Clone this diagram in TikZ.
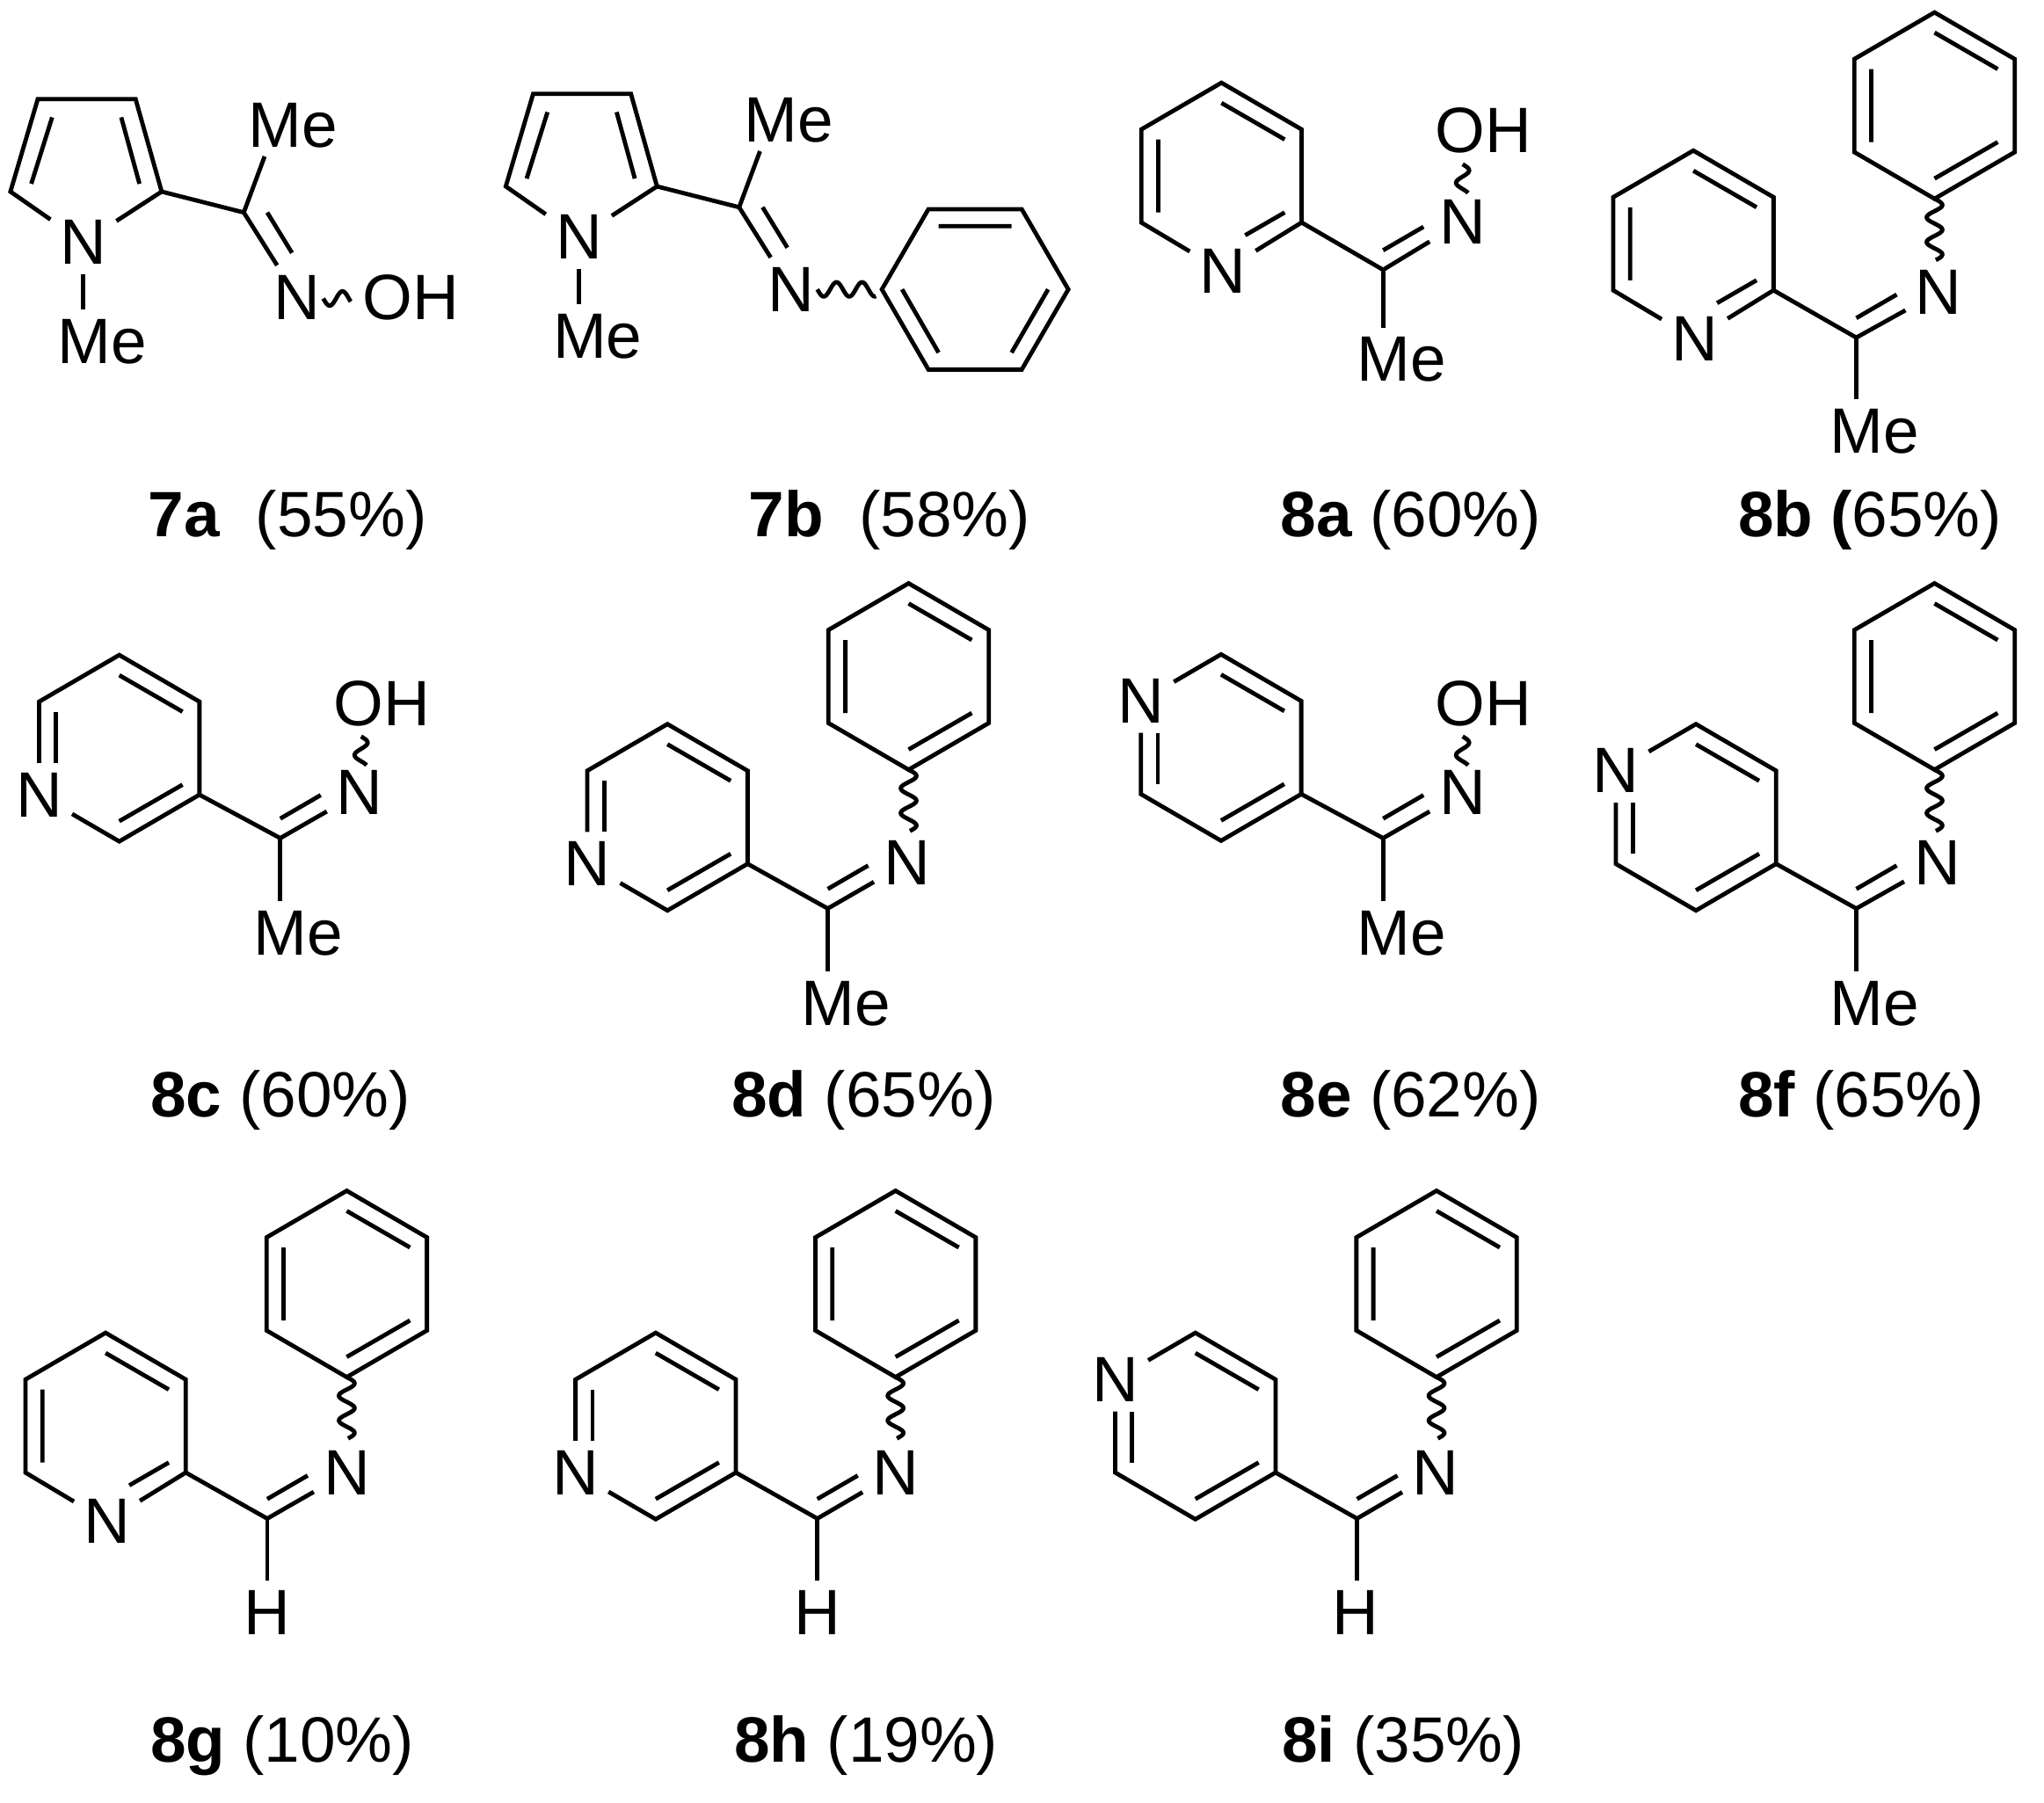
\documentclass[tikz,border=0pt]{standalone}
\usepackage{fontspec}
\setmainfont{Liberation Sans}
\usetikzlibrary{calc}
\tikzset{
  bond/.style={line width=0.65mm,black,line join=miter},
  atom/.style={font=\fontsize{28}{33}\selectfont,inner sep=4.1pt,anchor=center},
  yieldlabel/.style={font=\fontsize{28}{33}\selectfont,inner sep=0pt,anchor=base west},
}
% wavy bonds, starting at a named coordinate: vertical (going down) and horizontal (going right)
\newcommand\vwig[3]{\draw[bond,shift={(#1)}] plot[domain=0:#2,samples=70,variable=\wv] ({#3*sin(18.947*\wv)},{\wv});}
\newcommand\hwig[3]{\draw[bond,shift={(#1)}] plot[domain=0:#2,samples=70,variable=\wv] ({\wv},{#3*sin(18.367*\wv)});}
% hexagon coordinates: 1 top, 2 UR, 3 LR, 4 bottom, 5 LL, 6 UL; "i" = inner ring for double bonds
\newcommand\hexpts[3]{%
  \coordinate (#11) at ({#2},{#3-71.5});
  \coordinate (#12) at ({#2+61.5},{#3-35.7});
  \coordinate (#13) at ({#2+61.5},{#3+35.7});
  \coordinate (#14) at ({#2},{#3+71.5});
  \coordinate (#15) at ({#2-61.5},{#3+35.7});
  \coordinate (#16) at ({#2-61.5},{#3-35.7});
  \coordinate (#1i1) at ({#2},{#3-56});
  \coordinate (#1i2) at ({#2+48.5},{#3-28});
  \coordinate (#1i3) at ({#2+48.5},{#3+28});
  \coordinate (#1i4) at ({#2},{#3+56});
  \coordinate (#1i5) at ({#2-48.5},{#3+28});
  \coordinate (#1i6) at ({#2-48.5},{#3-28});
}
\newcommand\phenylring[3]{%
  \hexpts{#1}{#2}{#3}
  \draw[bond] (#11)--(#12)--(#13)--(#14)--(#15)--(#16)--cycle;
  \draw[bond] (#1i1)--(#1i2) (#1i3)--(#1i4) (#1i5)--(#1i6);
}
% N at vertex 4 (2-pyridyl)
\newcommand\pyrtwo[3]{%
  \hexpts{#1}{#2}{#3}
  \node[atom] (#1N) at ({#2+1},{#3+73}) {N};
  \draw[bond] (#1N)--(#15)--(#16)--(#11)--(#12)--(#13)--(#1N);
  \draw[bond] (#1i1)--(#1i2) (#1i5)--(#1i6);
  \draw[bond,shorten >=4.2mm] (#1i3)--(#1i4);
}
% N at vertex 5 (3-pyridyl)
\newcommand\pyrthree[3]{%
  \hexpts{#1}{#2}{#3}
  \node[atom] (#1N) at (#15) {N};
  \draw[bond] (#1N)--(#14)--(#13)--(#12)--(#11)--(#16)--(#16 |- #1N.north);
  \draw[bond] (#1i1)--(#1i2) (#1i3)--(#1i4);
  \draw[bond] (#1i6)--(#1i6 |- #1N.north);
}
% N at vertex 6 (4-pyridyl)
\newcommand\pyrfour[3]{%
  \hexpts{#1}{#2}{#3}
  \node[atom] (#1N) at (#16) {N};
  \draw[bond] (#1N)--(#11)--(#12)--(#13)--(#14)--(#15)--(#15 |- #1N.south);
  \draw[bond] (#1i1)--(#1i2) (#1i3)--(#1i4);
  \draw[bond] (#1i5)--(#1i5 |- #1N.south);
}
% prefix, attachment point, C, N, substituent position, substituent text
\newcommand\iminearm[6]{%
  \coordinate (#1C) at (#3);
  \node[atom] (#1Im) at (#4) {N};
  \node[atom] (#1Sub) at (#5) {#6};
  \draw[bond] (#2)--(#1C)--(#1Im);
  \draw[bond] (#1C)--(#1C |- #1Sub.north);
  \draw[bond] ($(#1C)+(0,-15)$)--++(31,-18);
}
% prefix, dx, dy
\newcommand\pyrrolering[3]{%
  \begin{scope}[shift={(#2,#3)}]
    \node[atom] (#1N) at (64,186) {N};
    \node[atom] (#1Me) at (78.5,262) {Me};
    \node[atom] (#1TopMe) at (225,96) {Me};
    \coordinate (#1L) at (8,147);
    \coordinate (#1TL) at (29,76);
    \coordinate (#1TR) at (104,76);
    \coordinate (#1R) at (124,147);
    \coordinate (#1C) at (187,163);
    \coordinate (#1MeEnd) at (203,120);
    \coordinate (#1a) at (40,90);
    \coordinate (#1b) at (24,141);
    \coordinate (#1c) at (93,90);
    \coordinate (#1d) at (107,141);
    \coordinate (#1e) at (205,163);
    \coordinate (#1f) at (224,194);
    \draw[bond] (#1N)--(#1L)--(#1TL)--(#1TR)--(#1R)--(#1N);
    \draw[bond] (#1a)--(#1b) (#1c)--(#1d);
    \draw[bond] (#1N.south)--(#1N.south |- #1Me.north);
    \draw[bond] (#1R)--(#1C)--(#1MeEnd);
    \draw[bond] (#1e)--(#1f);
  \end{scope}
}
\newcommand\yieldlab[4]{\node[yieldlabel] (#1) at (#2) {\textbf{#3}#4};}
\begin{document}
\begin{tikzpicture}[x=0.02cm,y=-0.02cm]
\useasboundingbox (0,0) rectangle (1568,1383.2);
\fill[white] (0,0) rectangle (1568,1383.2);

% 7a
\pyrrolering{sa}{0}{0}
\node[atom] (saIm) at (228,228) {N};
\node[atom] (saOH) at (315,228) {OH};
\draw[bond] (saC)--(saIm);
\coordinate (saw1) at (248,229);
\hwig{saw1}{21}{5.5}
\yieldlab{lsa}{113.5,412}{7a}{~~(55\%)}

% 7b
\pyrrolering{sb}{380}{-4}
\node[atom] (sbIm) at (606.6,222) {N};
\draw[bond] (sbC)--(sbIm);
\coordinate (pb1) at (676.5,222);
\coordinate (pb2) at (712.2,160.5);
\coordinate (pb3) at (783.8,160.5);
\coordinate (pb4) at (819.5,222);
\coordinate (pb5) at (783.8,283.5);
\coordinate (pb6) at (712.2,283.5);
\draw[bond] (pb1)--(pb2)--(pb3)--(pb4)--(pb5)--(pb6)--cycle;
\coordinate (pbi1) at (692,222);
\coordinate (pbi2) at (720,173.5);
\coordinate (pbi3) at (776,173.5);
\coordinate (pbi4) at (804,222);
\coordinate (pbi5) at (776,270.5);
\coordinate (pbi6) at (720,270.5);
\draw[bond] (pbi2)--(pbi3) (pbi4)--(pbi5) (pbi6)--(pbi1);
\coordinate (sbw1) at (627,222);
\hwig{sbw1}{45}{5.5}
\yieldlab{lsb}{574,412}{7b}{~~(58\%)}

% 8a
\pyrtwo{ea}{937}{135}
\iminearm{ea}{ea3}{1061,207}{1122,170}{1075,276}{Me}
\node[atom] (eaOH) at (1138,100) {OH};
\coordinate (eaw1) at (1122,126);
\vwig{eaw1}{22}{5}
\yieldlab{lea}{982,412}{8a}{ (60\%)}

% 8b
\pyrtwo{eb}{1299}{187}
\phenylring{ebp}{1484}{81}
\iminearm{eb}{eb3}{1424,259}{1487,224}{1438,331}{Me}
\vwig{ebp4}{47}{6}
\yieldlab{leb}{1333,412}{8b (}{65\%)}

% 8c
\pyrthree{ec}{91.5}{574}
\iminearm{ec}{ec3}{215,643}{276,608}{229,716}{Me}
\node[atom] (ecOH) at (293,540) {OH};
\coordinate (ecw1) at (277,565);
\vwig{ecw1}{22}{5}
\yieldlab{lec}{115,857}{8c}{ (60\%)}

% 8d
\pyrthree{ed}{512}{627}
\phenylring{edp}{697}{519}
\iminearm{ed}{ed3}{635,697}{695.7,662}{649,770}{Me}
\vwig{edp4}{47}{6}
\yieldlab{led}{561,857}{8d}{ (65\%)}

% 8e
\pyrfour{ee}{936.7}{573.5}
\iminearm{ee}{ee3}{1061,643}{1122,608}{1075,716}{Me}
\node[atom] (eeOH) at (1138,540) {OH};
\coordinate (eew1) at (1122,565);
\vwig{eew1}{22}{5}
\yieldlab{lee}{982,857}{8e}{ (62\%)}

% 8f
\pyrfour{ef}{1301}{627}
\phenylring{efp}{1484}{519}
\iminearm{ef}{ef3}{1424,697}{1486,662}{1438,770}{Me}
\vwig{efp4}{47}{6}
\yieldlab{lef}{1333,857}{8f}{ (65\%)}

% 8g
\pyrtwo{eg}{81}{1094}
\phenylring{egp}{266}{985}
\iminearm{eg}{eg3}{205,1165}{266,1130}{205,1237}{H}
\vwig{egp4}{47}{6}
\yieldlab{leg}{115,1352}{8g}{ (10\%)}

% 8h
\pyrthree{eh}{503}{1094}
\phenylring{ehp}{687}{985}
\iminearm{eh}{eh3}{627,1165}{687,1130}{627,1237}{H}
\vwig{ehp4}{47}{6}
\yieldlab{leh}{563,1352}{8h}{ (19\%)}

% 8i
\pyrfour{ei}{917}{1094}
\phenylring{eip}{1102}{985}
\iminearm{ei}{ei3}{1041,1165}{1101,1130}{1040,1237}{H}
\vwig{eip4}{47}{6}
\yieldlab{lei}{983,1352}{8i}{ (35\%)}
\end{tikzpicture}
\end{document}
